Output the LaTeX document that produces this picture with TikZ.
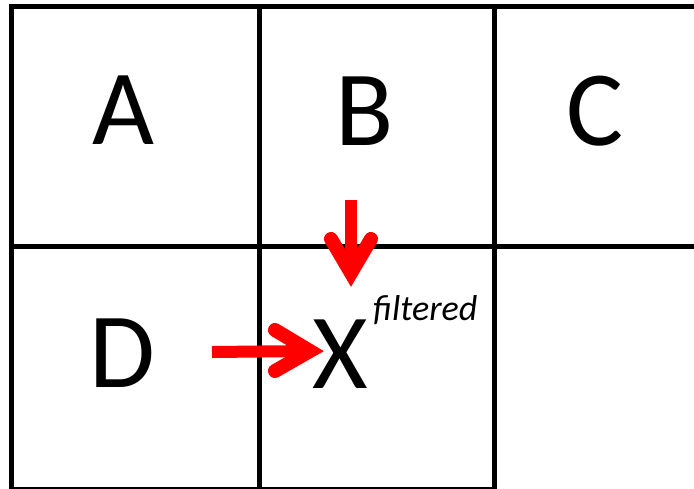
\documentclass[tikz,border=0pt]{standalone}
\usepackage{fontspec}
\setmainfont{Carlito}
\begin{document}
\begin{tikzpicture}[x=1pt,y=-1pt,
  gridline/.style={black, line width=5pt, line join=miter, line cap=butt},
  bigletter/.style={font=\fontsize{107}{107}\selectfont, inner sep=0pt, anchor=base},
  note/.style={font=\fontsize{36}{36}\selectfont\itshape, inner sep=0pt, anchor=base west},
  redshaft/.style={red, line width=12pt, line cap=butt},
  redhead/.style={red, line width=14pt, line cap=round, line join=miter, miter limit=20}
]
\useasboundingbox (0,0) rectangle (694,488);
\fill[white] (0,0) rectangle (694,488);

% grid
\draw[gridline] (700,6.5) -- (11.5,6.5) -- (11.5,495);
\draw[gridline] (259.5,4) -- (259.5,495);
\draw[gridline] (494,4) -- (494,495);
\draw[gridline] (9,246) -- (700,246);
\draw[gridline] (9,489) -- (496.5,489);

% letters
\node[bigletter] (A) at (123,144) {A};
\node[bigletter] (B) at (365,145) {B};
\node[bigletter] (C) at (595,145) {C};
\node[bigletter] (D) at (122,387) {D};
\node[bigletter] (X) at (340,388) {X};
\node[note] (filt) at (373,320) {filtered};

% arrows
\coordinate (downstart) at (351,200);
\coordinate (downtip) at (351,273);
\coordinate (downL) at (331,239);
\coordinate (downR) at (371,239);
\draw[redshaft] (downstart) -- (downtip);
\draw[redhead] (downL) -- (downtip) -- (downR);

\coordinate (rightstart) at (212,352);
\coordinate (righttip) at (310,351);
\coordinate (rightT) at (275,330);
\coordinate (rightB) at (275,371);
\draw[redshaft] (rightstart) -- (righttip);
\draw[redhead] (rightT) -- (righttip) -- (rightB);
\end{tikzpicture}
\end{document}
